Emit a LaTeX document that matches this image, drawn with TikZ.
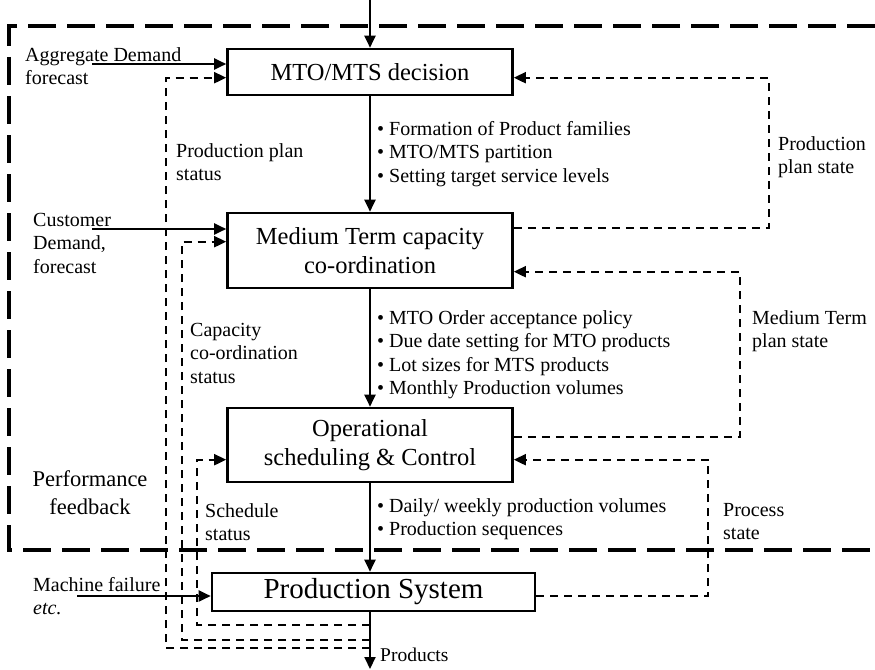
\documentclass[tikz,border=0pt]{standalone}
\usepackage{fontspec}
\setmainfont{Liberation Serif}
\usetikzlibrary{arrows.meta,calc}

\begin{document}
\begin{tikzpicture}[x=1pt, y=-1pt,
    block/.style={draw, line width=2.6pt, inner sep=0pt, align=center,
        font=\fontsize{24.5}{29}\selectfont},
    flow/.style={line width=2pt, -{Triangle[length=12pt,width=11pt]}},
    fb/.style={line width=2pt, dash pattern=on 8pt off 6pt},
    fbarrow/.style={fb, -{Triangle[length=12pt,width=11pt]}},
    frame/.style={line width=3.5pt, dash pattern=on 28pt off 11pt},
    note/.style={anchor=north west, inner sep=0pt, align=left,
        font=\fontsize{20}{23.5}\selectfont}]

\useasboundingbox (0,0) rectangle (875,669);

% planning frame (open to the right)
    \draw[frame] (875,26) -- (9,26) -- (9,550) -- (875,550);

% levels
    \node[block, minimum width=285pt, minimum height=46pt] (mto) at (370,72) {MTO/MTS decision};
    \node[block, minimum width=285pt, minimum height=75pt] (med) at (370,250.5) {Medium Term capacity\\co-ordination};
    \node[block, minimum width=285pt, minimum height=74pt] (ops) at (370,445) {Operational\\scheduling \& Control};
    \node[block, minimum width=323pt, minimum height=38pt, font=\fontsize{29}{34}\selectfont] (prod) at (373.5,592) {Production System};

% main flow
    \coordinate (top) at (370,0);
    \coordinate (bottom) at (370,669);
    \draw[flow] (top) -- (mto.north);
    \draw[flow] (mto) -- (med);
    \draw[flow] (med) -- (ops);
    \draw[flow] (ops.south) -- (ops.south |- prod.north);
    \draw[flow] (ops.south |- prod.south) -- (bottom);
    \node[note, font=\fontsize{19.5}{23}\selectfont] (products) at (380,648) {Products};

% decisions passed down
    \node[note] (dec1) at (377,121) {• Formation of Product families\\• MTO/MTS partition\\• Setting target service levels};
    \node[note] (dec2) at (377,310) {• MTO Order acceptance policy\\• Due date setting for MTO products\\• Lot sizes for MTS products\\• Monthly Production volumes};
    \node[note] (dec3) at (377,498) {• Daily/ weekly production volumes\\• Production sequences};

% outside inputs
    \node[note] (aggr) at (25,47) {Aggregate Demand\\forecast};
    \node[note] (cust) at (33,213) {Customer\\Demand,\\forecast};
    \node[note] (fail) at (33,577) {Machine failure\\\textit{etc.}};
    \coordinate (aggrin) at (92,64);
    \coordinate (custin) at (92,229);
    \coordinate (failin) at (77,596);
    \draw[flow] (aggrin) -- (aggrin -| mto.west);
    \draw[flow] (custin) -- (custin -| med.west);
    \draw[flow] (failin) -- (failin -| prod.west);

% state feedback (right)
    \draw[fbarrow] ($(med.north east)+(0,16)$) -- ++(255,0) |- ($(mto.north east)+(0,30)$);
    \draw[fbarrow] ($(ops.north east)+(0,30)$) -- ++(226,0) |- ($(med.north east)+(0,60)$);
    \draw[fbarrow] ($(prod.east)+(0,4)$) -- ++(172,0) |- ($(ops.north east)+(0,53)$);
    \node[note] (ppstate) at (778,136) {Production\\plan state};
    \node[note] (mtstate) at (752,310) {Medium Term\\plan state};
    \node[note] (pstate) at (723,503) {Process\\state};

% status feedback (left)
    \coordinate (planstat) at (370,648);
    \coordinate (capstat) at (370,640);
    \coordinate (schedstat) at (370,625);
    \draw[fbarrow] (planstat) -- ++(-204,0) |- ($(mto.north west)+(0,30)$);
    \draw[fbarrow] (capstat) -- ++(-188,0) |- ($(med.north west)+(0,30)$);
    \draw[fbarrow] (schedstat) -- ++(-173,0) |- ($(ops.north west)+(0,53)$);
    \node[note] (ppstatus) at (176,143) {Production plan\\status};
    \node[note] (capstatus) at (190,323) {Capacity\\co-ordination\\status};
    \node[note] (schstatus) at (205,503) {Schedule\\status};

    \node[anchor=north, inner sep=0pt, align=center, font=\fontsize{22.5}{28}\selectfont] (perf) at (90,470) {Performance\\feedback};
\end{tikzpicture}
\end{document}
